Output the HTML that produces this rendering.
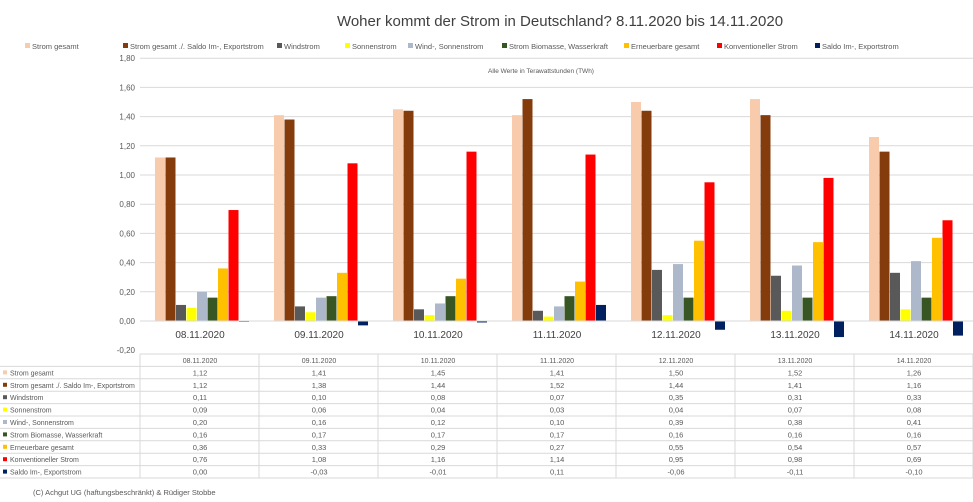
<!DOCTYPE html><html><head><meta charset="utf-8"><style>
body{margin:0;background:#fff;font-family:"Liberation Sans",sans-serif}
svg{display:block}
</style></head><body>
<svg id="s" width="973" height="502" xmlns="http://www.w3.org/2000/svg" font-family="Liberation Sans, sans-serif"></svg>
<script>
const names=["Strom gesamt","Strom gesamt ./. Saldo Im-, Exportstrom","Windstrom","Sonnenstrom","Wind-, Sonnenstrom","Strom Biomasse, Wasserkraft","Erneuerbare gesamt","Konventioneller Strom","Saldo Im-, Exportstrom"];
const cols=["#f8cbad","#843c0c","#595959","#ffff00","#adb9ca","#375623","#ffc000","#ff0000","#002060"];
const dates=["08.11.2020","09.11.2020","10.11.2020","11.11.2020","12.11.2020","13.11.2020","14.11.2020"];
const d=[[1.12,1.41,1.45,1.41,1.50,1.52,1.26],[1.12,1.38,1.44,1.52,1.44,1.41,1.16],[0.11,0.10,0.08,0.07,0.35,0.31,0.33],[0.09,0.06,0.04,0.03,0.04,0.07,0.08],[0.20,0.16,0.12,0.10,0.39,0.38,0.41],[0.16,0.17,0.17,0.17,0.16,0.16,0.16],[0.36,0.33,0.29,0.27,0.55,0.54,0.57],[0.76,1.08,1.16,1.14,0.95,0.98,0.69],[0.00,-0.03,-0.01,0.11,-0.06,-0.11,-0.10]];
const Y=v=>321-v*146;let h='';
h+='<text x="560" y="26" font-size="15" text-anchor="middle" fill="#404040">Woher kommt der Strom in Deutschland? 8.11.2020 bis 14.11.2020</text>';
const lx=[25,123,277,345,408,502,624,717,815];
names.forEach((n,i)=>{h+=`<rect x="${lx[i]}" y="43" width="5" height="5" fill="${cols[i]}"/><text x="${lx[i]+7}" y="49" font-size="7.5" fill="#595959">${n}</text>`});
for(let k=0;k<=10;k++){let v=1.8-k*0.2;let y=Y(v);if(k<10&&Math.abs(v)>0.001)h+=`<line x1="140" x2="973" y1="${y}" y2="${y}" stroke="#d9d9d9" stroke-width="1"/>`;h+=`<text x="135" y="${y+3}" font-size="8" text-anchor="end" fill="#595959">${v.toFixed(2).replace('.',',').replace('-0,00','0,00')}</text>`}
h+='<text x="488" y="73" font-size="6.5" fill="#595959">Alle Werte in Terawattstunden (TWh)</text>';
for(let g=0;g<7;g++){let x0=140+119*g;for(let s=0;s<9;s++){let v=d[s][g];let x=x0+15+s*10.5;let y1=Y(Math.max(v,0)),y2=Y(Math.min(v,0));h+=`<rect x="${x}" y="${y1}" width="10" height="${Math.max(y2-y1,0.8)}" fill="${cols[s]}"/>`}
h+=`<text x="${x0+60}" y="338" font-size="10" text-anchor="middle" fill="#404040">${dates[g]}</text>`}
h+='<line x1="140" x2="973" y1="321" y2="321" stroke="#d9d9d9"/>';
// table
const t0=354,rh=12.4;
for(let r=0;r<=10;r++){let y=t0+r*rh;h+=`<line x1="${r==0?140:0}" x2="973" y1="${y}" y2="${y}" stroke="#d9d9d9"/>`}
for(let c=0;c<=7;c++){let x=140+119*c;h+=`<line x1="${x}" x2="${x}" y1="${t0}" y2="${t0+10*rh}" stroke="#d9d9d9"/>`}
dates.forEach((dt,c)=>{h+=`<text x="${200+119*c}" y="${t0+9}" font-size="7" text-anchor="middle" fill="#595959">${dt}</text>`});
names.forEach((n,r)=>{let y=t0+(r+1)*rh;h+=`<rect x="3" y="${y+4}" width="4" height="4" fill="${cols[r]}"/><text x="10" y="${y+9}" font-size="7" fill="#595959">${n}</text>`;
d[r].forEach((v,c)=>{h+=`<text x="${200+119*c}" y="${y+9}" font-size="7.5" text-anchor="middle" fill="#595959">${v.toFixed(2).replace('.',',')}</text>`})});
h+='<text x="33" y="495" font-size="7.5" fill="#595959">(C) Achgut UG (haftungsbeschränkt) &amp; Rüdiger Stobbe</text>';
document.getElementById('s').innerHTML=h;
</script></body></html>
